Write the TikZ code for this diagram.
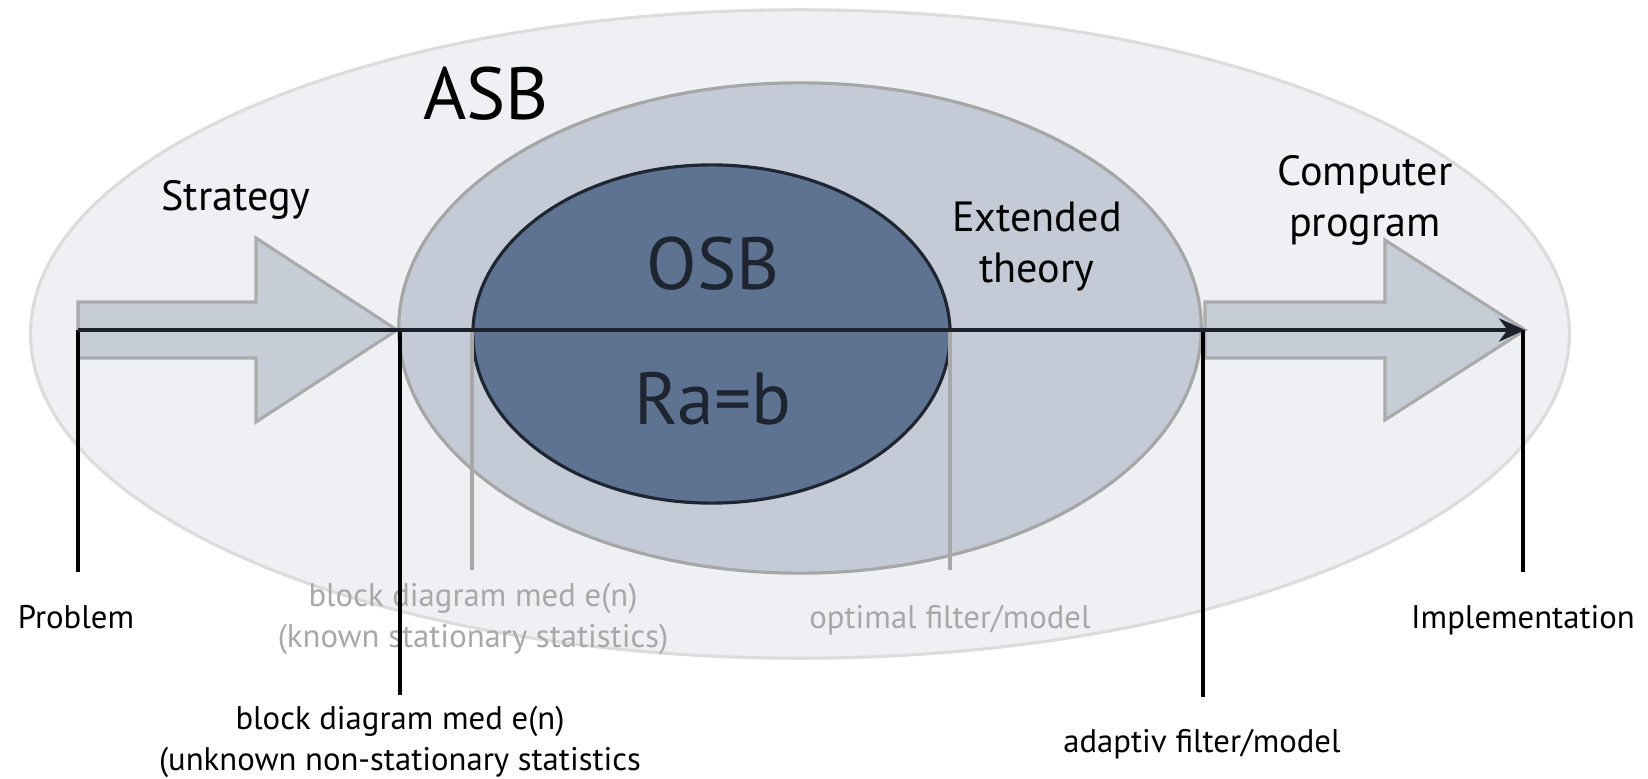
\documentclass[tikz,border=0pt]{standalone}
\usepackage{fontspec}
\setmainfont{PT Sans}
\usetikzlibrary{arrows.meta,shapes.geometric}

\definecolor{asbfill}{HTML}{EEF0F3}
\definecolor{asbedge}{HTML}{DCDCDC}
\definecolor{ringfill}{HTML}{C4CBD6}
\definecolor{ringedge}{HTML}{A6A6A6}
\definecolor{osbfill}{HTML}{5D7391}
\definecolor{osbedge}{HTML}{1D2631}
\definecolor{osbtext}{HTML}{1E2530}
\definecolor{arrowfill}{HTML}{C6CDD7}
\definecolor{arrowedge}{HTML}{ABABAB}
\definecolor{fadegray}{HTML}{A8A8A8}
\definecolor{axisdark}{HTML}{1B222B}

\begin{document}
\begin{tikzpicture} [
            x=0.01cm, y=-0.01cm,
            region/.style={ellipse,draw,line width=0.9pt,inner sep=0pt},
            block arrow/.style={draw=arrowedge,fill=arrowfill,line width=0.9pt,line join=miter},
            big text/.style={font=\fontsize{21}{24}\selectfont,inner sep=0pt,anchor=base},
            step text/.style={font=\fontsize{12}{14.6}\selectfont,align=center,inner sep=0pt,anchor=base},
            stage text/.style={font=\fontsize{9.3}{11.4}\selectfont,align=center,inner sep=0pt,anchor=base},
            faded text/.style={stage text,text=fadegray},
            stage line/.style={draw,line width=1.4pt,black},
            faded line/.style={draw,line width=0.9pt,fadegray},
            axis line/.style={draw,line width=1.2pt,axisdark,-{Stealth[length=7.4pt,width=6.6pt]}},
        ]
        \useasboundingbox (0,0) rectangle (1648,779);
        % First we draw the nested regions
        \node[region,fill=asbfill,draw=asbedge,minimum width=15.38cm,minimum height=6.48cm] (asb) at (800,334) {};
        \path[block arrow] (78,302) -- (256,302) -- (256,238) -- (397,330) -- (256,422) -- (256,358) -- (78,358) -- cycle;
        \path[block arrow] (1205,302) -- (1385,302) -- (1385,240) -- (1525,330) -- (1385,420) -- (1385,358) -- (1205,358) -- cycle;
        \node[region,fill=ringfill,draw=ringedge,minimum width=8.02cm,minimum height=4.90cm] (ring) at (800,328) {};
        \node[region,fill=osbfill,draw=osbedge,minimum width=4.77cm,minimum height=3.38cm] (osb) at (711.5,334) {};
        % Texts inside the regions
        \node[big text] (asbname) at (486,120) {ASB};
        \node[big text,text=osbtext] (osbname) at (713,290) {OSB};
        \node[big text,text=osbtext] (osbeq) at (713,424) {Ra=b};
        \node[step text] (strategy) at (236,211) {Strategy};
        \node[step text] (extended) at (1037,283) {Extended\\theory};
        \node[step text] (program) at (1365,237) {Computer\\program};
        % Points on the time line and where their lines end
        \foreach \pos/\name/\stop in {
                {78/problem/572},
                {400/blockdiag/695},
                {472/known/570},
                {950/optimal/570},
                {1203/adaptiv/697},
                {1523/implement/572}}
            {
            \coordinate (\name) at (\pos,330);
            \coordinate (\name end) at (\pos,\stop);
            }
        \coordinate (tip) at (1525,330);
        % Labels under the time line
        \node[stage text] (problem label) at (76,628) {Problem};
        \node[faded text] (known label) at (473,647) {block diagram med e(n)\\(known stationary statistics)};
        \node[faded text] (optimal label) at (950,628) {optimal filter/model};
        \node[stage text] (implement label) at (1523,628) {Implementation};
        \node[stage text] (blockdiag label) at (400,770) {block diagram med e(n)\\(unknown non-stationary statistics};
        \node[stage text] (adaptiv label) at (1202,752) {adaptiv filter/model};
        % Connect the points with their labels
        \foreach \name in {known,optimal}
            \path[faded line] (\name) -- (\name end);
        \foreach \name in {problem,blockdiag,adaptiv,implement}
            \path[stage line] (\name) -- (\name end);
        \path[axis line] (problem) -- (tip);
    \end{tikzpicture}
\end{document}
